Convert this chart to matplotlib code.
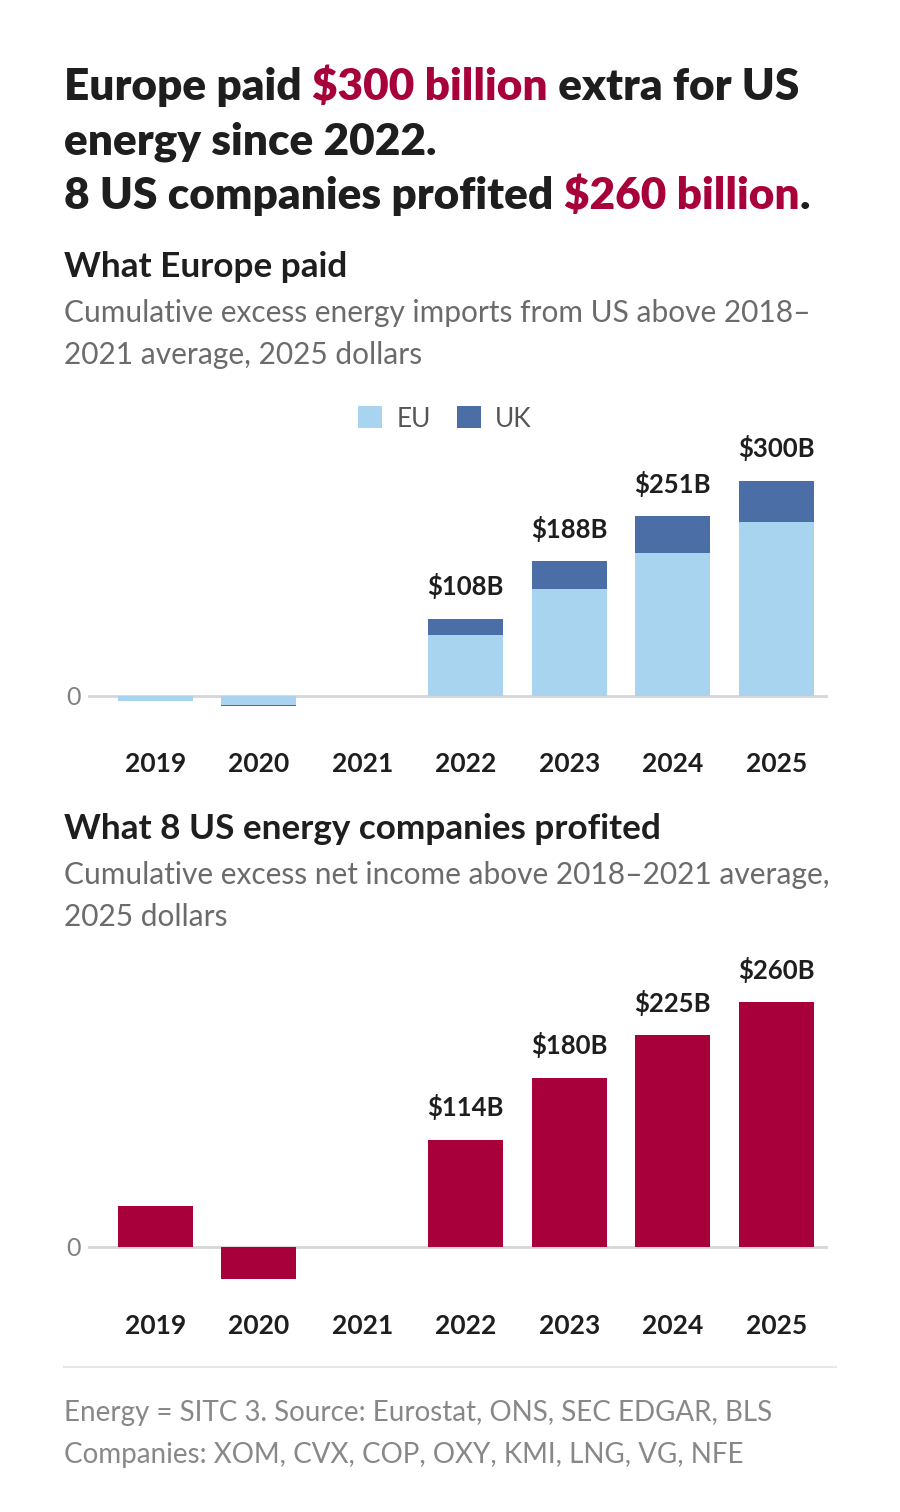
import matplotlib
matplotlib.use("Agg")
import matplotlib.pyplot as plt
import numpy as np

plt.rcParams['font.family'] = ['Lato', 'DejaVu Sans']

# data (billions, 2025 dollars)
years = ['2019', '2020', '2021', '2022', '2023', '2024', '2025']
eu_paid = [-7, -13, 0, 85, 149, 200, 243]
uk_paid = [0, -1, 0, 23, 39, 51, 57]
total_paid = [None, None, None, 108, 188, 251, 300]
profit = [44, -34, 0, 114, 180, 225, 260]
profit_labels = [None, None, None, 114, 180, 225, 260]

W, H = 900, 1512
DARK = '#1e1e1e'
GREY = '#6b6b6b'
RED = '#a8003a'
EU_C = '#a8d4ef'
UK_C = '#4a6ea5'

fig = plt.figure(figsize=(W / 100, H / 100), dpi=100)
fig.patch.set_facecolor('white')


def fx(x):
    return x / W


def fy(y):
    return 1 - y / H


def rich_line(x, y, parts, size):
    # draw a line of text made of (string, colour) pieces
    r = fig.canvas.get_renderer()
    for s, c in parts:
        t = fig.text(fx(x), fy(y), s, color=c, fontsize=size, fontweight='heavy', va='baseline', ha='left')
        bb = t.get_window_extent(renderer=r)
        x += bb.width


tsize = 31.75
rich_line(64, 100, [('Europe paid ', DARK), ('$300 billion', RED), (' extra for US', DARK)], tsize)
rich_line(64, 155, [('energy since 2022.', DARK)], tsize)
rich_line(64, 209, [('8 US companies profited ', DARK), ('$260 billion', RED), ('.', DARK)], tsize)


def header(y, title, sub1, sub2):
    fig.text(fx(64), fy(y), title, color=DARK, fontsize=25.3, fontweight='bold', va='baseline')
    fig.text(fx(64), fy(y + 45), sub1, color=GREY, fontsize=21.5, va='baseline')
    fig.text(fx(64), fy(y + 87), sub2, color=GREY, fontsize=21.5, va='baseline')


header(277, 'What Europe paid', 'Cumulative excess energy imports from US above 2018–', '2021 average, 2025 dollars')
header(839, 'What 8 US energy companies profited', 'Cumulative excess net income above 2018–2021 average,', '2025 dollars')


def make_ax(top, bottom, ylo, yhi, pad):
    ax = fig.add_axes([fx(88), fy(bottom), fx(828) - fx(88), fy(top) - fy(bottom)])
    ax.set_xlim(-0.65, 6.5)
    ax.set_ylim(ylo, yhi)
    for s in ax.spines.values():
        s.set_visible(False)
    ax.set_yticks([])
    ax.set_xticks(range(len(years)))
    ax.set_xticklabels(years, fontsize=19, fontweight='bold', color=DARK)
    ax.tick_params(axis='x', length=0, pad=pad)
    ax.axhline(0, color='#d6d6d6', lw=2, zorder=0)
    ax.text(-0.72, 0, '0', ha='right', va='center_baseline', color='#808080', fontsize=18)
    return ax


x = np.arange(len(years))
bw = 0.725

ax1 = make_ax(440, 720, -33.5, 357, 23)
ax1.bar(x, eu_paid, bw, color=EU_C, label='EU', zorder=2)
ax1.bar(x, uk_paid, bw, bottom=eu_paid, color=UK_C, label='UK', zorder=2)
for i, v in enumerate(total_paid):
    if v is not None:
        ax1.annotate(f'${v}B', (x[i], v), xytext=(0, 14), textcoords='offset points',
                     ha='center', va='bottom', fontsize=18.5, fontweight='bold', color=DARK)
leg = fig.legend(*ax1.get_legend_handles_labels(), loc='center', bbox_to_anchor=(fx(445), fy(419)),
                 ncol=2, frameon=False, fontsize=19, handlelength=0.9, handleheight=0.9,
                 columnspacing=1.0, handletextpad=0.55)
for t in leg.get_texts():
    t.set_color('#555555')

ax2 = make_ax(960, 1290, -45.7, 305, 17)
ax2.bar(x, profit, bw, color=RED, zorder=2)
for i, v in enumerate(profit_labels):
    if v is not None:
        ax2.annotate(f'${v}B', (x[i], v), xytext=(0, 14), textcoords='offset points',
                     ha='center', va='bottom', fontsize=18.5, fontweight='bold', color=DARK)

fig.add_artist(plt.Line2D([fx(64), fx(836)], [fy(1367), fy(1367)], color='#e6e9ec', lw=1.5))
fig.text(fx(64), fy(1421), 'Energy = SITC 3. Source: Eurostat, ONS, SEC EDGAR, BLS', color='#888888', fontsize=20, va='baseline')
fig.text(fx(64), fy(1463), 'Companies: XOM, CVX, COP, OXY, KMI, LNG, VG, NFE', color='#888888', fontsize=20, va='baseline')

fig.savefig('out.png', dpi=100, facecolor='white')
